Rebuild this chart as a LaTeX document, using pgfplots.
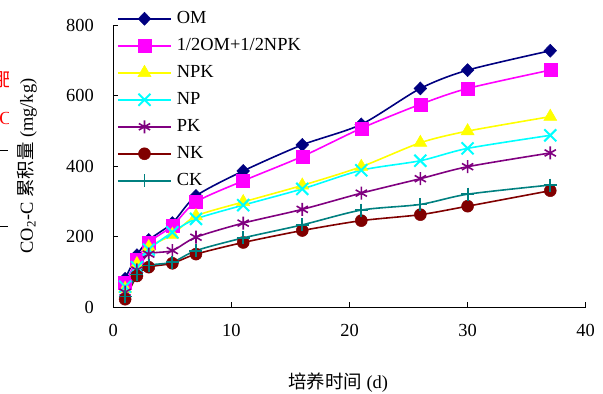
\documentclass[border=0pt]{standalone}
\usepackage{pgfplots}
\pgfplotsset{compat=1.18}
\usepackage{fontspec}
\setmainfont{Liberation Serif}
\newfontfamily\cjk{Noto Sans CJK SC}
\usetikzlibrary{plotmarks}
\definecolor{cOM}{HTML}{000080}
\definecolor{cHalf}{HTML}{FF00FF}
\definecolor{cNPK}{HTML}{FFFF00}
\definecolor{cNP}{HTML}{00FFFF}
\definecolor{cPK}{HTML}{800080}
\definecolor{cNK}{HTML}{800000}
\definecolor{cCK}{HTML}{008080}
\newcommand{\bigfont}{\fontsize{18.5}{21}\selectfont}
\begin{document}
\begin{tikzpicture}
\begin{axis}[
  at={(0,0)}, anchor=south west,
  scale only axis, width=472.4bp, height=282bp,
  xmin=0, xmax=40, ymin=0, ymax=800,
  xtick={0,10,20,30,40}, ytick={0,200,400,600,800},
  axis x line*=bottom, axis y line*=left,
  axis line style={-, line width=0.8bp},
  tick align=inside, major tick length=5bp,
  tick style={black, line width=0.8bp},
  /pgf/number format/assume math mode=true,
  ticklabel style={font=\bigfont},
  xticklabel style={yshift=-14bp},
  yticklabel style={xshift=-16bp},
  every axis y label/.style={at={(axis description cs:-0.182,0.5)}, rotate=90, anchor=center, font=\bigfont},
  every axis x label/.style={at={(axis description cs:0.476,-0.27)}, anchor=center, font=\bigfont},
  ylabel={CO\textsubscript{2}-C {\cjk 累积量} (mg/kg)},
  xlabel={{\cjk 培养时间} (d)},
  clip=false,
  legend style={draw=none, fill=none, inner sep=0pt, at={(axis description cs:0.0078,1.053)}, anchor=north west,
    font=\bigfont, row sep=10bp, column sep=5bp,
    nodes={inner sep=0pt, text height=13bp, text depth=4bp}},
  legend cell align=left,
  legend image code/.code={\draw[mark repeat=2,mark phase=2] plot coordinates {(0bp,0bp) (26.5bp,0bp) (53bp,0bp)};},
  every axis plot/.append style={line width=1.6bp, smooth, tension=0.45},
]
\addplot[color=cOM, mark=diamond*, mark size=6.5bp, mark options={solid, xscale=1.3, line width=0.5bp}] coordinates {
(1,80) (2,147) (3,190) (5,238) (7,315) (11,386) (16,460) (21,518) (26,620) (30,672) (37,727)};
\addlegendentry{OM}
\addplot[color=cHalf, mark=square*, mark size=6.5bp, mark options={solid, line width=0.5bp}] coordinates {
(1,68) (2,133) (3,183) (5,230) (7,298) (11,358) (16,427) (21,507) (26,575) (30,620) (37,672)};
\addlegendentry{1/2OM+1/2NPK}
\addplot[color=cNPK, mark=triangle*, mark size=7.5bp, mark options={solid, line width=0.5bp}] coordinates {
(1,52) (2,122) (3,170) (5,205) (7,258) (11,298) (16,345) (21,398) (26,466) (30,499) (37,540)};
\addlegendentry{NPK}
\addplot[color=cNP, mark=x, mark size=8.5bp, mark options={solid, line width=2bp}] coordinates {
(1,58) (2,113) (3,163) (5,212) (7,250) (11,289) (16,335) (21,388) (26,415) (30,450) (37,487)};
\addlegendentry{NP}
\addplot[color=cPK, mark=asterisk, mark size=6.5bp, mark options={solid, line width=1.6bp}] coordinates {
(1,42) (2,105) (3,150) (5,160) (7,198) (11,238) (16,277) (21,323) (26,364) (30,398) (37,437)};
\addlegendentry{PK}
\addplot[color=cNK, mark=*, mark size=6bp, mark options={solid, line width=0.5bp}] coordinates {
(1,22) (2,88) (3,113) (5,124) (7,150) (11,183) (16,217) (21,245) (26,262) (30,286) (37,330)};
\addlegendentry{NK}
\addplot[color=cCK, mark=+, mark size=6.5bp, mark options={solid, line width=1.8bp}] coordinates {
(1,30) (2,92) (3,118) (5,127) (7,160) (11,196) (16,233) (21,275) (26,291) (30,320) (37,346)};
\addlegendentry{CK}
\end{axis}
% stray fragments at the left edge of the reference
\begin{scope}
\clip (-113.3bp,150bp) rectangle (-104.3bp,307bp);
\node[anchor=west, text=red, font=\bigfont\cjk, inner sep=0pt] at (-118bp,227bp) {肥};
\node[anchor=west, text=red, font=\bigfont, inner sep=0pt] at (-114bp,189bp) {CO};
\end{scope}
\draw[line width=1bp] (-113.3bp,156.5bp) -- (-105bp,156.5bp);
\draw[line width=1bp] (-113.3bp,80.5bp) -- (-105bp,80.5bp);
\pgfresetboundingbox
\useasboundingbox (-113.3bp,-87bp) rectangle (489.7bp,307bp);
\end{tikzpicture}
\end{document}
